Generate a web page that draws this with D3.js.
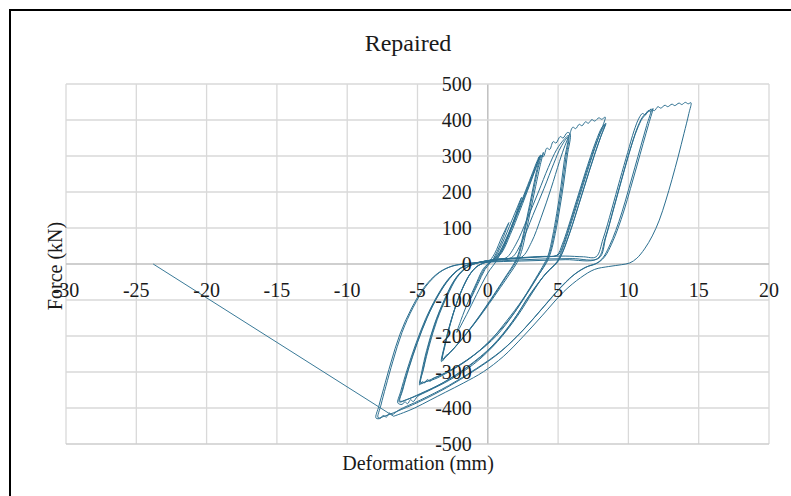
<!DOCTYPE html>
<html><head><meta charset="utf-8">
<script src="https://cdn.jsdelivr.net/npm/d3@7"></script>
<style>
html,body{margin:0;padding:0;background:#fff;}
svg{display:block;}
</style>
</head><body>
<svg id="chart" width="791" height="496"></svg>
<script>
// ---------- DATA ----------
const chartTitle = "Repaired";
const xTitle = "Deformation (mm)";
const yTitle = "Force (kN)";
const xTicks = [-30,-25,-20,-15,-10,-5,0,5,10,15,20];
const yTicks = [-500,-400,-300,-200,-100,0,100,200,300,400,500];

// [deformation (mm), force (kN)], in loading order
const preCycles = [[0,0],[0.5,30],[1.0,75],[1.5,115],[1.3,95],[0.9,55],[0.4,15],[-0.2,-15],[-0.7,-55],[-1.2,-95],[-1.0,-75],[-0.6,-40],[-0.1,-5],[0.4,12],[1.0,55],[1.7,120],[2.4,185],[2.1,150],[1.6,95],[1.1,45],[0.6,8],[0,-25],[-0.8,-85],[-1.5,-140],[-2.2,-190],[-1.9,-155],[-1.4,-105],[-0.8,-52],[-0.3,-12],[0.2,6]];
const a1c1 = [[0.7,25],[1.3,70],[2.0,135],[2.7,205],[3.2,255],[3.5,285],[3.7,300],[3.85,297],[3.95,310],[3.7,270],[3.4,215],[3.05,150],[2.7,85],[2.4,35],[2.1,5],[1.6,-25],[0.9,-65],[0.1,-110],[-0.7,-153],[-1.5,-193],[-2.3,-230],[-2.8,-250],[-3.0,-255],[-3.15,-266],[-3.3,-271],[-3.1,-230],[-2.75,-175],[-2.3,-118],[-1.8,-68],[-1.3,-30],[-0.8,-8],[-0.3,3],[0.3,10]];
const a1c2 = [[0.8,28],[1.4,75],[2.1,142],[2.8,210],[3.3,260],[3.6,288],[3.8,302],[3.55,262],[3.25,205],[2.9,140],[2.55,78],[2.25,30],[1.95,2],[1.4,-30],[0.7,-72],[-0.1,-118],[-0.9,-162],[-1.7,-202],[-2.5,-238],[-3.0,-258],[-3.25,-267],[-3.05,-225],[-2.7,-170],[-2.25,-112],[-1.75,-63],[-1.25,-27],[-0.75,-6],[-0.2,4],[0.4,11]];
const a1c3 = [[0.9,30],[1.5,80],[2.2,148],[2.9,215],[3.35,262],[3.7,298],[3.45,255],[3.15,198],[2.8,132],[2.45,70],[2.15,25],[1.85,0],[1.3,-33],[0.6,-75],[-0.2,-122],[-1.0,-166],[-1.8,-206],[-2.6,-242],[-3.2,-264],[-3.0,-220],[-2.65,-165],[-2.2,-108],[-1.7,-60],[-1.2,-25],[-0.7,-5],[-0.1,5],[0.5,12]];
const a2c1 = [[1.0,32],[1.6,82],[2.3,150],[3.0,222],[3.5,275],[3.75,302],[3.95,298],[4.2,322],[4.4,318],[4.65,340],[4.85,336],[5.15,354],[5.35,350],[5.65,365],[5.85,362],[5.65,300],[5.4,225],[5.1,150],[4.8,85],[4.5,35],[4.2,5],[3.7,-25],[3.0,-68],[1.9,-135],[0.6,-200],[-0.8,-248],[-2.2,-285],[-3.3,-308],[-3.9,-318],[-4.1,-326],[-4.3,-321],[-4.5,-330],[-4.65,-327],[-4.85,-336],[-4.7,-300],[-4.35,-240],[-3.8,-168],[-3.1,-100],[-2.4,-46],[-1.7,-14],[-1.1,-1],[-0.4,6],[0.5,13],[1.3,17]];
const a2c2 = [[2.0,55],[2.8,125],[3.6,200],[4.3,268],[4.9,318],[5.4,345],[5.75,357],[5.55,295],[5.3,220],[5.0,145],[4.7,80],[4.4,30],[4.1,2],[3.5,-38],[2.7,-88],[1.5,-155],[0.1,-215],[-1.3,-263],[-2.7,-298],[-3.8,-320],[-4.5,-328],[-4.8,-333],[-4.6,-293],[-4.25,-232],[-3.7,-160],[-3.0,-95],[-2.3,-42],[-1.6,-12],[-1.0,0],[-0.2,8],[0.8,14],[1.7,18]];
const a2c3 = [[2.4,60],[3.2,135],[4.0,210],[4.7,280],[5.2,325],[5.7,352],[5.45,290],[5.2,215],[4.9,140],[4.6,75],[4.3,25],[4.0,0],[3.4,-40],[2.5,-97],[1.3,-160],[0,-220],[-1.5,-267],[-2.9,-300],[-4.0,-320],[-4.75,-330],[-4.55,-288],[-4.15,-225],[-3.6,-155],[-2.9,-90],[-2.2,-38],[-1.5,-10],[-0.9,1],[0,9],[1.2,15],[2.4,19]];
const a3c1 = [[3.1,60],[3.8,130],[4.5,210],[5.1,285],[5.5,330],[5.8,358],[6.05,380],[6.25,376],[6.5,388],[6.7,384],[6.95,395],[7.15,391],[7.4,401],[7.6,397],[7.9,406],[8.1,402],[8.35,408],[8.0,365],[7.6,320],[7.2,272],[6.8,222],[6.4,172],[6.0,122],[5.6,74],[5.25,35],[4.95,8],[4.6,-8],[4.0,-32],[3.2,-78],[2.1,-145],[0.7,-215],[-0.9,-275],[-2.7,-322],[-4.2,-352],[-5.0,-368],[-5.3,-382],[-5.5,-377],[-5.7,-388],[-5.9,-383],[-6.1,-390],[-6.4,-386],[-6.2,-355],[-5.75,-295],[-5.15,-225],[-4.45,-155],[-3.65,-92],[-2.85,-44],[-2.05,-14],[-1.35,-2],[-0.5,6],[1.0,14],[2.5,18],[3.8,21],[4.9,24]];
const a3c2 = [[5.3,55],[5.7,100],[6.1,150],[6.5,200],[6.9,250],[7.3,298],[7.7,342],[8.1,378],[8.4,391],[8.05,355],[7.65,310],[7.25,262],[6.85,212],[6.45,162],[6.05,112],[5.65,66],[5.3,30],[4.95,5],[4.5,-12],[3.9,-38],[3.0,-86],[1.9,-152],[0.5,-222],[-1.2,-280],[-3.0,-326],[-4.6,-358],[-5.7,-376],[-6.3,-383],[-6.1,-352],[-5.65,-291],[-5.05,-221],[-4.35,-151],[-3.55,-88],[-2.75,-41],[-1.95,-12],[-1.25,-1],[-0.3,7],[1.2,14],[2.7,18],[4.0,21],[5.0,25]];
const a3c3 = [[5.4,58],[5.8,105],[6.2,155],[6.6,205],[7.0,255],[7.4,302],[7.8,345],[8.15,375],[8.35,388],[8.0,350],[7.6,305],[7.2,257],[6.8,207],[6.4,157],[6.0,107],[5.6,62],[5.25,27],[4.9,3],[4.4,-15],[3.8,-42],[2.9,-90],[1.8,-157],[0.3,-228],[-1.4,-284],[-3.2,-330],[-4.8,-360],[-5.8,-377],[-6.25,-381],[-6.05,-350],[-5.6,-288],[-5.0,-218],[-4.3,-148],[-3.5,-86],[-2.7,-40],[-1.9,-11],[-1.2,0],[0,7],[2.0,15],[4.0,20],[5.5,22],[6.8,20],[7.7,20]];
const a4c1 = [[8.2,70],[8.8,150],[9.4,235],[9.95,310],[10.4,370],[10.75,405],[11.0,418],[11.2,414],[11.4,426],[11.6,423],[11.75,432],[11.45,390],[11.05,335],[10.6,272],[10.15,210],[9.7,150],[9.25,98],[8.8,55],[8.35,22],[7.85,4],[7.1,-7],[6.2,-28],[5.2,-65],[4.0,-118],[2.6,-180],[1.0,-240],[-0.8,-290],[-2.8,-338],[-4.8,-378],[-6.3,-405],[-6.8,-418],[-7.0,-414],[-7.2,-425],[-7.45,-421],[-7.65,-429],[-7.95,-428],[-7.75,-395],[-7.4,-345],[-6.9,-275],[-6.25,-195],[-5.45,-125],[-4.55,-66],[-3.6,-27],[-2.7,-8],[-1.7,0],[0,6],[2,11],[4,14],[6,15],[7.9,16]];
const a4c2 = [[8.4,75],[9.0,160],[9.6,245],[10.15,320],[10.6,375],[11.0,408],[11.35,422],[11.6,428],[11.3,385],[10.9,330],[10.45,267],[10.0,205],[9.55,145],[9.1,93],[8.65,50],[8.2,18],[7.7,1],[6.95,-9],[6.05,-32],[5.05,-70],[3.85,-124],[2.45,-186],[0.85,-246],[-0.95,-296],[-2.95,-344],[-4.95,-384],[-6.5,-410],[-7.3,-422],[-7.8,-427],[-7.6,-392],[-7.25,-340],[-6.75,-270],[-6.1,-190],[-5.3,-120],[-4.4,-62],[-3.45,-24],[-2.55,-6],[-1.6,1],[0.5,6],[3,9],[5.5,12],[7.8,15]];
const a5c1 = [[8.35,72],[8.95,155],[9.55,240],[10.1,315],[10.6,372],[11.0,405],[11.35,420],[11.6,430],[11.85,426],[12.1,437],[12.3,433],[12.6,441],[12.8,437],[13.1,444],[13.3,440],[13.6,447],[13.8,443],[14.05,449],[14.25,445],[14.45,448],[14.3,418],[13.95,362],[13.55,300],[13.1,235],[12.65,175],[12.2,122],[11.7,78],[11.15,42],[10.6,16],[10.1,3],[9.5,-2],[8.6,-7],[7.6,-15],[6.6,-38],[5.4,-77],[3.9,-142],[2.5,-202],[1.1,-257],[-0.3,-299],[-1.75,-331],[-3.0,-356],[-4.1,-378],[-5.2,-400],[-6.0,-413],[-6.7,-423]];
const finalJump = [[-6.7,-423],[-23.8,0]];

const loops = [preCycles,a1c1,a1c2,a1c3,a2c1,a2c2,a2c3,a3c1,a3c2,a3c3,a4c1,a4c2,a5c1];
const hysteresis = loops.flat();

// ---------- DRAW ----------
const FONT = "'Liberation Serif', 'Times New Roman', 'DejaVu Serif', serif";
const svg = d3.select("#chart");
svg.append("rect").attr("width",791).attr("height",496).attr("fill","#fff");
svg.append("path").attr("d","M10,496V10H791").attr("fill","none").attr("stroke","#000").attr("stroke-width",2);

const x = d3.scaleLinear().domain([-30,20]).range([66,769]);
const y = d3.scaleLinear().domain([-500,500]).range([444,84]);

const grid = svg.append("g");
grid.selectAll("line.v").data(xTicks).join("line")
  .attr("x1",d=>x(d)).attr("x2",d=>x(d)).attr("y1",y(500)).attr("y2",y(-500))
  .attr("stroke",d=>d===0?"#bfbfbf":"#d9d9d9").attr("stroke-width",d=>d===0?1.5:1.3);
grid.selectAll("line.h").data(yTicks).join("line")
  .attr("x1",x(-30)).attr("x2",x(20)).attr("y1",d=>y(d)).attr("y2",d=>y(d))
  .attr("stroke",d=>d===0?"#bfbfbf":(d===-500?"#cccccc":"#d9d9d9")).attr("stroke-width",d=>d===0?1.5:1.3);

const line = d3.line().x(d=>x(d[0])).y(d=>y(d[1])).curve(d3.curveCatmullRom.alpha(0.5));
svg.append("path").datum(hysteresis).attr("d",line)
  .attr("fill","none").attr("stroke","#2c6f90").attr("stroke-width",1).attr("stroke-linejoin","round");
svg.append("path").datum(finalJump).attr("d",d3.line().x(d=>x(d[0])).y(d=>y(d[1])))
  .attr("fill","none").attr("stroke","#3a7a98").attr("stroke-width",1);

function txt(sel){ return sel.attr("font-family",FONT).attr("fill","#1a1a1a"); }
txt(svg.append("g").selectAll("text").data(yTicks).join("text"))
  .attr("x",x(0)-16).attr("y",d=>y(d)).attr("dy","0.35em")
  .attr("text-anchor","end").attr("font-size",20).text(d=>d);
txt(svg.append("g").selectAll("text").data(xTicks).join("text"))
  .attr("x",d=>x(d)).attr("y",y(0)+33)
  .attr("text-anchor","middle").attr("font-size",20).text(d=>d);

txt(svg.append("text")).attr("x",408).attr("y",51).attr("text-anchor","middle").attr("font-size",24).text(chartTitle);
txt(svg.append("text")).attr("x",418).attr("y",470).attr("text-anchor","middle").attr("font-size",20).text(xTitle);
txt(svg.append("text")).attr("transform","translate(62,266) rotate(-90)").attr("text-anchor","middle").attr("font-size",20).text(yTitle);
</script>
</body></html>
